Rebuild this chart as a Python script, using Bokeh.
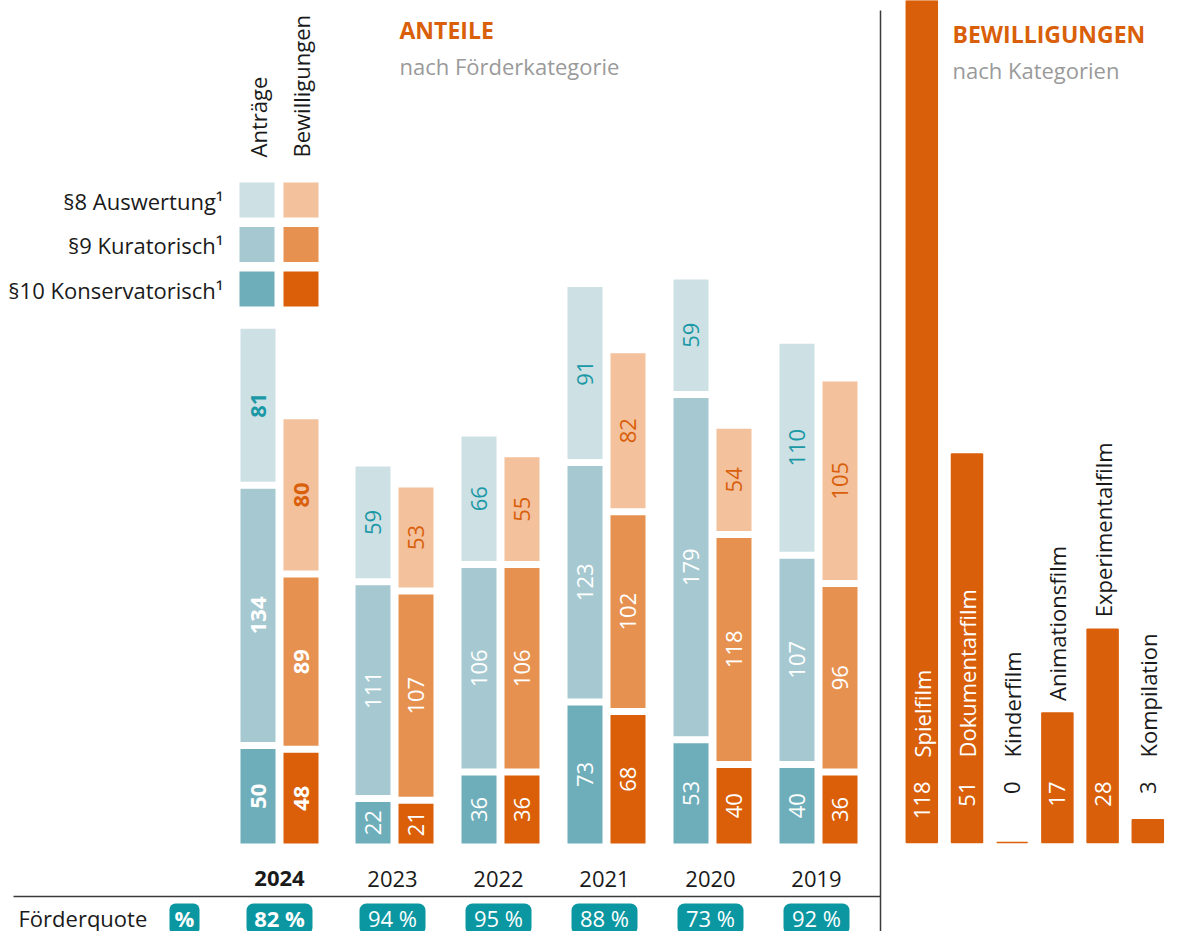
import math
from bokeh.plotting import figure
from bokeh.models import Range1d, ColumnDataSource, InlineStyleSheet
from bokeh.embed import file_html
from bokeh.resources import INLINE
from bokeh.core.properties import value

# ---------------- data ----------------
years = ["2024", "2023", "2022", "2021", "2020", "2019"]
antraege_p8 = [81, 59, 66, 91, 59, 110]
antraege_p9 = [134, 111, 106, 123, 179, 107]
antraege_p10 = [50, 22, 36, 73, 53, 40]
bewill_p8 = [80, 53, 55, 82, 54, 105]
bewill_p9 = [89, 107, 106, 102, 118, 96]
bewill_p10 = [48, 21, 36, 68, 40, 36]
foerderquote = [82, 94, 95, 88, 73, 92]

categories = ["Spielfilm", "Dokumentarfilm", "Kinderfilm", "Animationsfilm",
              "Experimentalfilm", "Kompilation"]
cat_values = [118, 51, 0, 17, 28, 3]

legend_labels = ["§8 Auswertung¹", "§9 Kuratorisch¹", "§10 Konservatorisch¹"]
column_headers = ["Anträge", "Bewilligungen"]

# ---------------- style ----------------
FONT = value("Open Sans")
FS = "22px"
A_COLORS = ["#cde0e4", "#a6c9d1", "#6eaeba"]   # §8, §9, §10
B_COLORS = ["#f3c19c", "#e69150", "#da5f08"]
TEAL_TXT = "#1b98a6"
ORANGE = "#d95f0a"
BADGE = "#0a97a1"
GREY = "#9a9a9a"
DARK = "#1a1a1a"

W, H = 1185, 931
TOP_SY, BOT_SY = 0, H
PX, BASE = 1.89, 843          # left chart: px per unit, baseline (screen y)
PX2, BASE2 = 7.62, 842        # right chart


def Y(sy):
    return (BASE - sy) / PX


def Y2(sy):
    return (BASE2 - sy) / PX2


p = figure(width=W, height=H, x_range=Range1d(0, W),
           y_range=Range1d(Y(BOT_SY), Y(TOP_SY)),
           output_backend="svg", toolbar_location=None, min_border=0,
           x_axis_location=None, y_axis_location=None,
           outline_line_color=None, background_fill_color="white",
           border_fill_color="white")
p.grid.visible = False
p.extra_y_ranges = {"cat": Range1d(Y2(BOT_SY), Y2(TOP_SY))}
p.stylesheets = [InlineStyleSheet(css="""
text[font-size="23px"], text[style*="23px"] { letter-spacing: 3.6px; }
""")]

GAP = 7 / PX
BAR_W = 35


def group_left(i):
    return 240 if i == 0 else 355 + (i - 1) * 106


# ---------------- stacked bars ----------------
seg = dict(x=[], bottom=[], top=[], color=[])
lab = {True: dict(x=[], y=[], text=[], color=[]), False: dict(x=[], y=[], text=[], color=[])}
for i, yr in enumerate(years):
    left = group_left(i)
    for k, (vals, cols, txt8) in enumerate([
            ((antraege_p10[i], antraege_p9[i], antraege_p8[i]), A_COLORS, TEAL_TXT),
            ((bewill_p10[i], bewill_p9[i], bewill_p8[i]), B_COLORS, ORANGE)]):
        cx = left + BAR_W / 2 + k * 43
        b = 0.0
        for j, v in enumerate(vals):
            t = b + v
            seg["x"].append(cx); seg["bottom"].append(b); seg["top"].append(t)
            seg["color"].append(cols[2 - j])
            d = lab[i == 0]
            d["x"].append(cx); d["y"].append((b + t) / 2); d["text"].append(str(v))
            d["color"].append(txt8 if j == 2 else "white")
            b = t + GAP

p.vbar(x="x", width=BAR_W, bottom="bottom", top="top", fill_color="color",
       line_color=None, source=ColumnDataSource(seg))
for bold, d in lab.items():
    p.text(x="x", y="y", text="text", text_color="color", angle=math.pi / 2,
           text_align="center", text_baseline="middle", text_font=FONT,
           text_font_size=FS, text_font_style="bold" if bold else "normal",
           source=ColumnDataSource(d))

# ---------------- legend ----------------
for r, lbl in enumerate(legend_labels):
    top_sy = 182 + 44.5 * r
    p.quad(left=[239], right=[274], top=[Y(top_sy)], bottom=[Y(top_sy + 35)],
           fill_color=A_COLORS[r], line_color=None)
    p.quad(left=[283], right=[318], top=[Y(top_sy)], bottom=[Y(top_sy + 35)],
           fill_color=B_COLORS[r], line_color=None)
    p.text(x=[223], y=[Y(top_sy + 18)], text=[lbl], text_align="right",
           text_baseline="middle", text_font=FONT, text_font_size=FS,
           text_color=DARK)

for k, hdr in enumerate(column_headers):
    p.text(x=[257.5 + 43 * k], y=[Y(157)], text=[hdr], angle=math.pi / 2,
           text_align="left", text_baseline="middle", text_font=FONT,
           text_font_size=FS, text_color=DARK)

# ---------------- titles ----------------
p.text(x=[399], y=[Y(29)], text=["ANTEILE"], text_font=FONT, text_font_size="23px",
       text_font_style="bold", text_color=ORANGE, text_baseline="alphabetic")
p.text(x=[399], y=[Y(65)], text=["nach Förderkategorie"], text_font=FONT,
       text_font_size=FS, text_color=GREY, text_baseline="alphabetic")
p.text(x=[952], y=[Y(33)], text=["BEWILLIGUNGEN"], text_font=FONT, text_font_size="23px",
       text_font_style="bold", text_color=ORANGE, text_baseline="alphabetic")
p.text(x=[952], y=[Y(69)], text=["nach Kategorien"], text_font=FONT,
       text_font_size=FS, text_color=GREY, text_baseline="alphabetic")

# ---------------- years + Förderquote ----------------
ROW_SY = 917
for i, yr in enumerate(years):
    cx = group_left(i) + 39 - (0 if i == 0 else 2)
    p.text(x=[cx], y=[Y(878)], text=[yr], text_align="center", text_baseline="middle",
           text_font=FONT, text_font_size=FS, text_color=DARK,
           text_font_style="bold" if i == 0 else "normal")
    p.quad(left=[cx - 33], right=[cx + 33], top=[Y(903)], bottom=[Y(934)],
           fill_color=BADGE, line_color=None, border_radius=7)
    p.text(x=[cx], y=[Y(ROW_SY)], text=[f"{foerderquote[i]} %"], text_align="center",
           text_baseline="middle", text_font=FONT, text_font_size=FS,
           text_color="white", text_font_style="bold" if i == 0 else "normal")

p.quad(left=[169], right=[199], top=[Y(903)], bottom=[Y(934)], fill_color=BADGE,
       line_color=None, border_radius=6)
p.text(x=[184], y=[Y(ROW_SY)], text=["%"], text_align="center", text_baseline="middle",
       text_font=FONT, text_font_size=FS, text_color="white", text_font_style="bold")
p.text(x=[18], y=[Y(ROW_SY)], text=["Förderquote"], text_align="left",
       text_baseline="middle", text_font=FONT, text_font_size=FS, text_color=DARK)

# ---------------- rules ----------------
p.segment(x0=[880], y0=[Y(10)], x1=[880], y1=[Y(BOT_SY)], line_color="#3a3a3a",
          line_width=1.5)
p.segment(x0=[13], y0=[Y(896)], x1=[880], y1=[Y(896)], line_color="#3a3a3a",
          line_width=1.5)

# ---------------- right panel ----------------
cat_x = [921.3 + 45.2 * j for j in range(len(categories))]
p.vbar(x=cat_x, width=31, bottom=0, top=cat_values, y_range_name="cat",
       fill_color=ORANGE, line_color=ORANGE, line_width=1.5)

NAME_SY, VAL_SY = 757, 781
for j, (name, v) in enumerate(zip(categories, cat_values)):
    top_sy = BASE2 - v * PX2
    p.text(x=[cat_x[j]], y=[Y2(VAL_SY)], text=[str(v)], y_range_name="cat",
           angle=math.pi / 2, text_align="right", text_baseline="middle",
           text_font=FONT, text_font_size=FS,
           text_color="white" if top_sy < VAL_SY - 2 else DARK)
    est_len = len(name) * 11
    if top_sy <= NAME_SY - est_len - 6:
        pos, col = NAME_SY, "white"
    elif top_sy >= NAME_SY + 6:
        pos, col = NAME_SY, DARK
    else:
        pos, col = top_sy - 12, DARK
    p.text(x=[cat_x[j]], y=[Y2(pos)], text=[name], y_range_name="cat",
           angle=math.pi / 2, text_align="left", text_baseline="middle",
           text_font=FONT, text_font_size=FS, text_color=col)

open("out.html", "w").write(file_html(p, INLINE))
